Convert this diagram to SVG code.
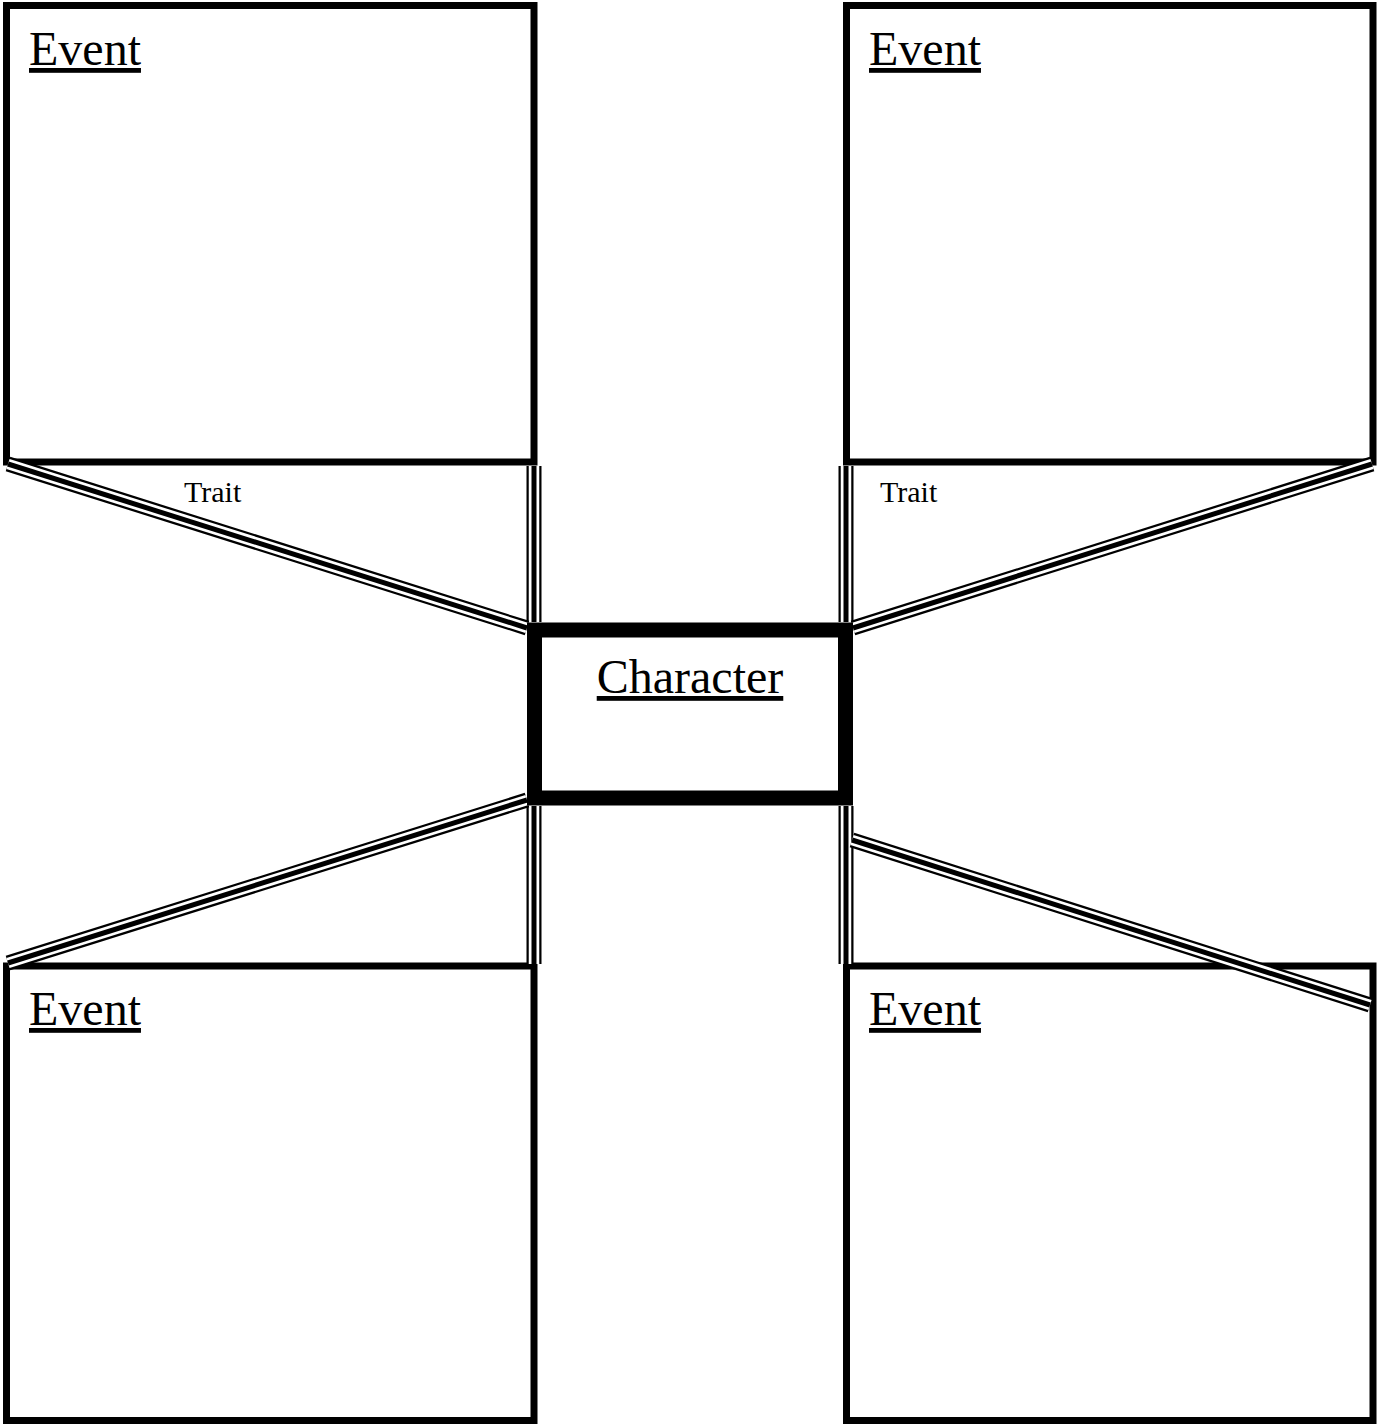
<svg xmlns="http://www.w3.org/2000/svg" xmlns:xlink="http://www.w3.org/1999/xlink" width="1380" height="1425" viewBox="0 0 1380 1425">
<style>
.box{fill:#fff;stroke:#000;stroke-width:7}
.cbox{fill:#fff;stroke:#000;stroke-width:15}
.t{font-family:"Liberation Serif","Times New Roman",serif;fill:#000}
.title{font-size:48px;text-decoration:underline}
.trait{font-size:30px}
.l1{stroke:#000;stroke-width:15;fill:none}
.l2{stroke:#fff;stroke-width:10.5;fill:none}
.l3{stroke:#000;stroke-width:5;fill:none}
</style>
<defs>
<path id="v1" d="M534,466 L534,622"/>
<path id="v2" d="M846,466 L846,622"/>
<path id="v3" d="M534,806 L534,964"/>
<path id="v4" d="M846,806 L846,964"/>
<path id="d1" d="M8,464 L527,628"/>
<path id="d2" d="M1372,464 L853,628"/>
<path id="d3" d="M527,800 L8,963"/>
<path id="d4" d="M852,840 L1370,1005"/>
</defs>
<rect width="1380" height="1425" fill="#fff"/>
<g id="event-tl">
<rect class="box" x="6.5" y="5.5" width="527.5" height="456.5"/>
<text class="t title" x="29" y="65">Event</text>
</g>
<g id="event-tr">
<rect class="box" x="846.5" y="5.5" width="526.5" height="456.5"/>
<text class="t title" x="869" y="65">Event</text>
</g>
<g id="event-bl">
<rect class="box" x="6.5" y="966" width="527.5" height="454.5"/>
<text class="t title" x="29" y="1025">Event</text>
</g>
<g id="event-br">
<rect class="box" x="846.5" y="966" width="526.5" height="454.5"/>
<text class="t title" x="869" y="1025">Event</text>
</g>
<g id="connectors">
<g id="c-v1"><use xlink:href="#v1" class="l1"/><use xlink:href="#v1" class="l2"/><use xlink:href="#v1" class="l3"/></g>
<g id="c-v2"><use xlink:href="#v2" class="l1"/><use xlink:href="#v2" class="l2"/><use xlink:href="#v2" class="l3"/></g>
<g id="c-v3"><use xlink:href="#v3" class="l1"/><use xlink:href="#v3" class="l2"/><use xlink:href="#v3" class="l3"/></g>
<g id="c-v4"><use xlink:href="#v4" class="l1"/><use xlink:href="#v4" class="l2"/><use xlink:href="#v4" class="l3"/></g>
<g id="c-d1"><use xlink:href="#d1" class="l1"/><use xlink:href="#d1" class="l2"/><use xlink:href="#d1" class="l3"/></g>
<g id="c-d2"><use xlink:href="#d2" class="l1"/><use xlink:href="#d2" class="l2"/><use xlink:href="#d2" class="l3"/></g>
<g id="c-d3"><use xlink:href="#d3" class="l1"/><use xlink:href="#d3" class="l2"/><use xlink:href="#d3" class="l3"/></g>
<g id="c-d4"><use xlink:href="#d4" class="l1"/><use xlink:href="#d4" class="l2"/><use xlink:href="#d4" class="l3"/></g>
<text class="t trait" x="184" y="502">Trait</text>
<text class="t trait" x="880" y="502">Trait</text>
</g>
<g id="character">
<rect class="cbox" x="534.5" y="630" width="311" height="168"/>
<text class="t title" x="690" y="693" text-anchor="middle">Character</text>
</g>
</svg>
